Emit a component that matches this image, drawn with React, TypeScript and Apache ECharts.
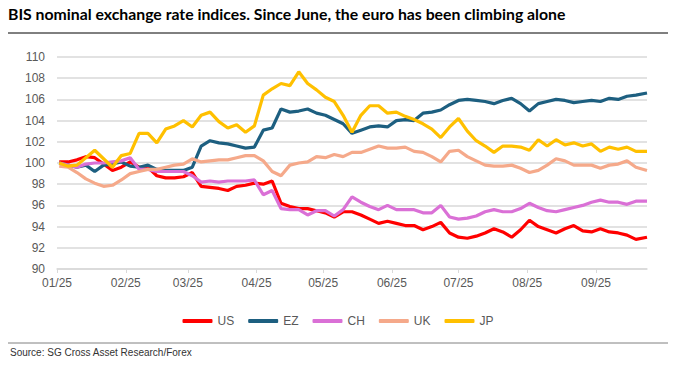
import React, { useEffect, useRef } from "react";
import * as echarts from "echarts";

const dates = [
  "2025-01-02","2025-01-06","2025-01-10","2025-01-14","2025-01-18","2025-01-22","2025-01-26","2025-01-30",
  "2025-02-03","2025-02-07","2025-02-11","2025-02-15","2025-02-19","2025-02-23","2025-02-27",
  "2025-03-03","2025-03-07","2025-03-11","2025-03-15","2025-03-19","2025-03-23","2025-03-27","2025-03-31",
  "2025-04-04","2025-04-08","2025-04-12","2025-04-16","2025-04-20","2025-04-24","2025-04-28",
  "2025-05-02","2025-05-06","2025-05-10","2025-05-14","2025-05-18","2025-05-22","2025-05-26","2025-05-30",
  "2025-06-03","2025-06-07","2025-06-11","2025-06-15","2025-06-19","2025-06-23","2025-06-27",
  "2025-07-01","2025-07-05","2025-07-09","2025-07-13","2025-07-17","2025-07-21","2025-07-25","2025-07-29",
  "2025-08-02","2025-08-06","2025-08-10","2025-08-14","2025-08-18","2025-08-22","2025-08-26","2025-08-30",
  "2025-09-03","2025-09-07","2025-09-11","2025-09-15","2025-09-19","2025-09-24",
];

const US = [
  100.1,100.1,100.3,100.6,100.5,99.9,99.3,99.6,
  100.1,99.6,99.6,98.8,98.6,98.6,98.7,
  99.1,97.8,97.7,97.6,97.4,97.8,97.9,98.1,
  98.0,98.3,96.2,95.9,95.7,95.7,95.5,
  95.3,94.9,95.4,95.4,95.1,94.7,94.3,94.5,
  94.3,94.1,94.1,93.7,94.0,94.4,93.4,
  93.0,92.9,93.1,93.4,93.8,93.5,93.0,93.7,
  94.6,94.0,93.7,93.4,93.8,94.1,93.6,93.5,
  93.8,93.5,93.4,93.2,92.8,93.0,
];

const EZ = [
  100.0,99.8,99.6,99.8,99.2,99.8,99.9,100.1,
  99.7,99.6,99.8,99.4,99.3,99.3,99.3,
  99.6,101.6,102.1,101.9,101.8,101.6,101.4,101.5,
  103.1,103.3,105.1,104.8,104.9,105.1,104.7,
  104.5,104.1,103.7,102.8,103.1,103.4,103.5,103.4,
  104.0,104.1,104.0,104.7,104.8,105.0,105.5,
  105.9,106.0,105.9,105.8,105.6,105.9,106.1,105.6,
  104.9,105.6,105.8,106.0,105.9,105.7,105.8,105.9,
  105.8,106.1,106.0,106.3,106.4,106.6,
];

const CH = [
  100.0,99.8,99.6,99.9,100.0,100.0,100.1,100.2,
  100.5,99.4,99.4,99.2,99.2,99.2,99.2,
  98.8,98.2,98.3,98.2,98.3,98.3,98.3,98.4,
  97.0,97.4,95.7,95.6,95.6,95.1,95.5,
  95.5,95.0,95.6,96.8,96.3,95.9,95.6,96.0,
  95.6,95.6,95.6,95.3,95.3,96.0,94.9,
  94.7,94.8,95.0,95.4,95.6,95.4,95.4,95.7,
  96.2,95.8,95.5,95.4,95.6,95.8,96.0,96.3,
  96.5,96.3,96.3,96.1,96.4,96.4,
];

const UK = [
  99.7,99.6,99.1,98.5,98.1,97.8,97.9,98.4,
  99.0,99.2,99.4,99.4,99.6,99.8,99.9,
  100.4,100.1,100.2,100.3,100.3,100.5,100.7,100.7,
  100.2,99.2,98.8,99.8,100.0,100.1,100.6,
  100.5,100.8,100.6,101.0,101.0,101.3,101.6,101.4,
  101.4,101.5,101.1,101.0,100.6,100.1,101.1,
  101.2,100.6,100.2,99.8,99.7,99.7,99.8,99.5,
  99.1,99.3,99.8,100.4,100.2,99.8,99.8,99.8,
  99.5,99.8,99.9,100.2,99.6,99.3,
];

const JP = [
  100.0,99.7,99.8,100.5,101.2,100.4,99.6,100.7,
  100.9,102.8,102.8,101.9,103.2,103.5,104.0,
  103.4,104.5,104.8,103.9,103.3,103.6,102.9,103.5,
  106.4,107.0,107.5,107.3,108.6,107.5,106.9,
  106.2,105.8,104.5,102.9,104.5,105.4,105.4,104.7,
  104.8,104.4,104.1,103.7,103.2,102.4,103.4,
  104.2,103.0,102.1,101.6,101.0,101.6,101.6,101.5,
  101.2,102.2,101.6,102.2,101.7,101.9,101.6,101.8,
  101.1,101.5,101.3,101.5,101.1,101.1,
];

const seriesNames = ["US", "EZ", "CH", "UK", "JP"];
const seriesValues = [US, EZ, CH, UK, JP];
const seriesColors = ["#ff0000", "#1d5f80", "#da70d6", "#f5a98a", "#ffc000"];

const title = "BIS nominal exchange rate indices. Since June, the euro has been climbing alone";
const source = "Source: SG Cross Asset Research/Forex";

export default function App() {
  const ref = useRef<HTMLDivElement>(null);
  useEffect(() => {
    if (!ref.current) return;
    const chart = echarts.init(ref.current, null, { renderer: "svg" });
    const DAY = 86400000;
    chart.setOption({
      animation: false,
      backgroundColor: "#ffffff",
      grid: { left: 57, right: 29, top: 57, bottom: 100, containLabel: false },
      xAxis: {
        type: "time",
        min: "2025-01-01",
        max: "2025-09-24",
        splitNumber: 9,
        minInterval: 28 * DAY,
        maxInterval: 31 * DAY,
        axisLine: { show: true, lineStyle: { color: "#d9d9d9", width: 1.5 } },
        axisTick: { show: true, length: 4, lineStyle: { color: "#d9d9d9", width: 1 } },
        splitLine: { show: false },
        axisLabel: {
          color: "#595959",
          fontSize: 12,
          fontFamily: "Liberation Sans",
          margin: 8,
          showMaxLabel: false,
          formatter: (v: number) => {
            const d = new Date(v);
            const m = d.getMonth() + 1;
            const y = d.getFullYear() % 100;
            return (m < 10 ? "0" + m : "" + m) + "/" + y;
          },
        },
      },
      yAxis: {
        type: "value",
        min: 90,
        max: 110,
        interval: 2,
        axisLine: { show: false },
        axisTick: { show: false },
        splitLine: { lineStyle: { color: "#d9d9d9", width: 1.5 } },
        axisLabel: { color: "#595959", fontSize: 12, fontFamily: "Liberation Sans", margin: 12 },
      },
      legend: {
        data: seriesNames,
        left: "center",
        top: 310,
        icon: "roundRect",
        itemWidth: 30,
        itemHeight: 4,
        itemGap: 14,
        textStyle: { color: "#595959", fontSize: 12, fontFamily: "Liberation Sans" },
      },
      series: seriesNames.map((name, i) => ({
        name,
        type: "line",
        showSymbol: false,
        symbol: "none",
        color: seriesColors[i],
        lineStyle: { color: seriesColors[i], width: 3.2 },
        data: dates.map((d, j) => [d, seriesValues[i][j]]),
      })),
      graphic: [
        {
          type: "text",
          left: 8,
          top: 5,
          style: { text: title, fill: "#000000", font: "bold 15.8px Lato" },
        },
        {
          type: "line",
          shape: { x1: 8, y1: 33, x2: 668, y2: 33 },
          style: { stroke: "#000000", lineWidth: 1 },
        },
        {
          type: "line",
          shape: { x1: 8, y1: 343, x2: 668, y2: 343 },
          style: { stroke: "#808080", lineWidth: 1 },
        },
        {
          type: "text",
          left: 10,
          top: 347,
          style: { text: source, fill: "#333333", font: "10px Liberation Sans" },
        },
      ],
    });
    return () => chart.dispose();
  }, []);
  return <div ref={ref} style={{ width: 676, height: 369, position: "absolute", left: 0, top: 0 }} />;
}
